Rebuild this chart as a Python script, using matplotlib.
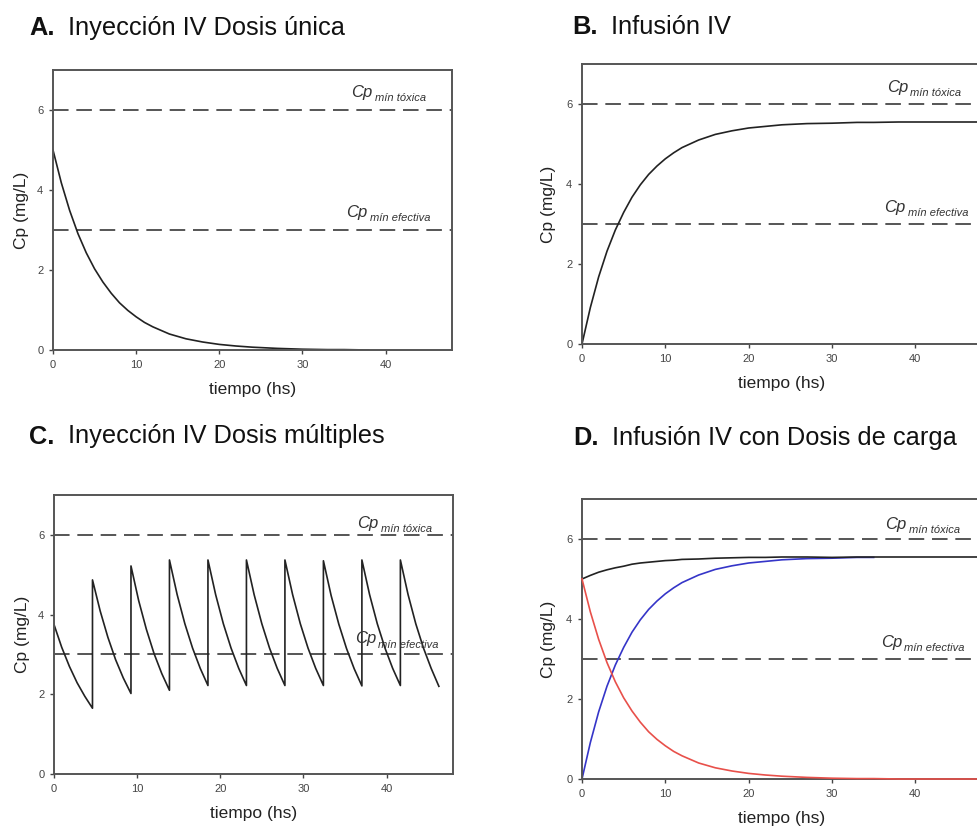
import matplotlib
matplotlib.use('Agg')
import matplotlib.pyplot as plt
import numpy as np

plt.rcParams['font.family'] = ['Liberation Sans', 'DejaVu Sans']

# tiempo (hs) for single dose / infusion curves
tiempo = [0, 1, 2, 3, 4, 5, 6, 7, 8, 9, 10, 11, 12, 14, 16, 18, 20, 22, 24,
          27, 30, 33, 35, 38, 42, 48]
# bolus IV (panel A, red curve in D)
cp_bolo = [5.00, 4.18, 3.49, 2.91, 2.43, 2.03, 1.70, 1.42, 1.18, 0.99, 0.83,
           0.69, 0.58, 0.40, 0.28, 0.20, 0.14, 0.10, 0.07, 0.04, 0.02, 0.01,
           0.01, 0.00, 0.00, 0.00]
# infusion IV (panel B, blue curve in D)
cp_infusion = [0.00, 0.91, 1.68, 2.32, 2.85, 3.29, 3.67, 3.98, 4.24, 4.45,
               4.63, 4.78, 4.91, 5.10, 5.24, 5.33, 5.40, 5.44, 5.48, 5.51,
               5.52, 5.54, 5.54, 5.55, 5.55, 5.55]

# multiple doses (panel C)
intervalo = 4.63
dosis_t = [0, 4.63, 9.26, 13.89, 18.52, 23.15, 27.78, 32.41, 37.04, 41.67]
cp_multiples = [
    [3.75, 3.18, 2.70, 2.29, 1.95, 1.65],
    [4.87, 4.09, 3.43, 2.87, 2.41, 2.02],
    [5.22, 4.35, 3.63, 3.02, 2.52, 2.10],
    [5.37, 4.50, 3.77, 3.16, 2.65, 2.22],
    [5.37, 4.50, 3.77, 3.16, 2.65, 2.22],
    [5.37, 4.50, 3.77, 3.16, 2.65, 2.22],
    [5.37, 4.50, 3.77, 3.16, 2.65, 2.22],
    [5.35, 4.48, 3.76, 3.15, 2.64, 2.21],
    [5.37, 4.50, 3.77, 3.16, 2.65, 2.22],
    [5.37, 4.50, 3.77, 3.16, 2.65, 2.20],
]

cp_toxica = 6
cp_efectiva = 3

titulos = [('A.', 'Inyección IV Dosis única'),
           ('B.', 'Infusión IV'),
           ('C.', 'Inyección IV Dosis múltiples'),
           ('D.', 'Infusión IV con Dosis de carga')]

W, H = 977, 831
fig = plt.figure(figsize=(W / 100, H / 100), dpi=100)


def px_axes(l, t, r, b):
    return fig.add_axes([l / W, 1 - b / H, (r - l) / W, (b - t) / H])


def setup(ax, ylab_x):
    ax.set_xlim(0, 48)
    ax.set_ylim(0, 7)
    ax.set_xticks([0, 10, 20, 30, 40])
    ax.set_yticks([0, 2, 4, 6])
    ax.tick_params(direction='out', length=3, width=1, colors='#444',
                   labelsize=8, pad=4)
    for s in ax.spines.values():
        s.set_color('#555555')
        s.set_linewidth(1.4)
    ax.set_xlabel('tiempo (hs)', fontsize=12.5, color='#222')
    ax.set_ylabel('Cp (mg/L)', fontsize=12.5, color='#222')
    ax.xaxis.set_label_coords(0.5, -0.116)
    ax.yaxis.set_label_coords(ylab_x, 0.5)
    for v in (cp_toxica, cp_efectiva):
        ax.axhline(v, color='#555555', lw=1.4, dashes=(8, 4), zorder=1)


def cp_label(ax, x, y, sub):
    t = ax.text(x, y, 'Cp', style='italic', fontsize=12, color='#333',
                va='baseline', ha='left')
    ax.annotate(sub, xy=(1, 0), xycoords=t, xytext=(1.5, -2.5),
                textcoords='offset points', style='italic', fontsize=8,
                color='#333', va='bottom', ha='left')


def titulo(x, y, letra, texto):
    fig.text(x / W, 1 - y / H, letra, fontsize=18.3, weight='bold',
             va='baseline', color='#111')
    fig.text((x + 39) / W, 1 - y / H, texto, fontsize=18.3,
             va='baseline', color='#111')


t = np.array(tiempo)
bolo = np.array(cp_bolo)
inf = np.array(cp_infusion)

# A
axA = px_axes(53, 70, 452, 350)
setup(axA, -0.060)
m = t <= 38
axA.plot(t[m], bolo[m], color='#222', lw=1.2)
cp_label(axA, 35.9, 6.33, 'mín tóxica')
cp_label(axA, 35.3, 3.33, 'mín efectiva')

# B
axB = px_axes(582, 64, 982, 344)
setup(axB, -0.065)
axB.plot(t, inf, color='#222', lw=1.2)
cp_label(axB, 36.6, 6.3, 'mín tóxica')
cp_label(axB, 36.3, 3.3, 'mín efectiva')

# C
axC = px_axes(54, 495, 453, 774)
setup(axC, -0.060)
tc, yc = [], []
for t0, seg in zip(dosis_t, cp_multiples):
    tc.extend(np.linspace(t0, t0 + intervalo, len(seg)))
    yc.extend(seg)
axC.plot(tc, yc, color='#222', lw=1.2)
cp_label(axC, 36.5, 6.18, 'mín tóxica')
cp_label(axC, 36.2, 3.28, 'mín efectiva')

# D
axD = px_axes(582, 499, 982, 779)
setup(axD, -0.065)
mb = t <= 35
axD.plot(t[mb], inf[mb], color='#3535c8', lw=1.2)
axD.plot(t, bolo, color='#e8504a', lw=1.2, zorder=3, clip_on=False)
axD.plot(t, bolo + inf, color='#222', lw=1.2)
cp_label(axD, 36.4, 6.25, 'mín tóxica')
cp_label(axD, 35.9, 3.3, 'mín efectiva')

titulo(29, 34.7, *titulos[0])
titulo(572, 34.5, *titulos[1])
titulo(29, 443.5, *titulos[2])
titulo(573, 445.5, *titulos[3])

fig.savefig('out.png', dpi=100)
